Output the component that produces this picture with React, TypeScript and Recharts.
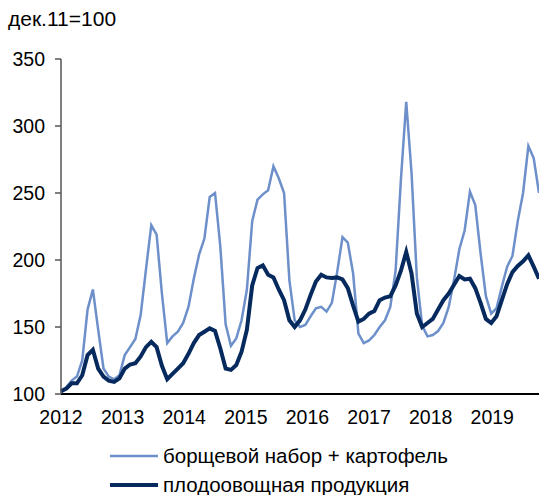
import { LineChart, Line, XAxis, YAxis, Legend } from 'recharts'

// дек.11=100, monthly from Jan 2012
const YEARS = ['2012', '2013', '2014', '2015', '2016', '2017', '2018', '2019']
const YEAR_POS = [0, 11.6, 23.2, 34.8, 46.4, 58, 69.6, 81.2]
const Y_TICKS = [100, 150, 200, 250, 300, 350]

const BORSCH = [
  101, 105, 110, 113, 125, 163, 178, 148, 119, 113, 111, 114,
  129, 135, 141, 159, 193, 226, 219, 175, 138, 143, 146.5, 153,
  165, 186, 204, 216, 247, 250, 210, 152, 136, 141.5, 155, 178,
  229, 245, 249, 252, 270, 261, 250, 185, 155, 150, 151.5, 158,
  164, 165, 161.5, 168, 191, 217, 213, 190, 145, 138, 140, 144,
  150, 155, 165, 192, 260, 318, 265, 187, 151, 143, 144, 147,
  153, 165, 185, 208, 222, 251, 241, 205, 173, 160, 164, 180,
  195, 203, 229, 250, 285, 276, 250,
]

const FRUITVEG = [
  102, 104, 108, 108, 114, 129, 133, 119, 113, 110, 109, 111.7,
  119, 122, 123, 128, 135, 139, 135, 121, 111, 115, 119, 123,
  130, 138, 144, 146.5, 149, 147, 134, 119, 118, 121.6, 131.6, 148,
  181, 194, 196, 189, 187, 178, 170, 155, 150, 155, 163, 174,
  184, 189, 187, 186.5, 187, 185.5, 179, 166, 154, 156, 160, 162,
  170, 172, 173, 181, 192, 206, 190, 160, 150, 153, 156, 163,
  170, 175, 181.5, 188, 185.5, 186, 179, 168, 156, 153, 158, 170,
  182, 191, 195.5, 199, 203.5, 195, 186,
]

const LIGHT = '#6d8fca'
const DARK = '#062a5e'
const FONT = '"Liberation Sans", Arial, sans-serif'

const data = BORSCH.map((v, i) => ({ m: i, borsch: v, fruitveg: FRUITVEG[i] }))

const WIDTHS: Record<string, number> = { borsch: 2.5, fruitveg: 4 }

function LegendBox(props: any) {
  const { payload } = props
  return (
    <div style={{ fontFamily: FONT, fontSize: 20.5, color: '#000' }}>
      {payload.map((entry: any) => (
        <div key={entry.value} style={{ display: 'flex', alignItems: 'center', height: 29, lineHeight: '29px' }}>
          <svg width={48} height={10}>
            <line x1={0} y1={5} x2={48} y2={5} stroke={entry.color} strokeWidth={WIDTHS[entry.dataKey]} />
          </svg>
          <span style={{ marginLeft: 5 }}>{entry.value}</span>
        </div>
      ))}
    </div>
  )
}

export default function App() {
  return (
    <div style={{ position: 'absolute', left: 0, top: 0, width: 539, height: 495, overflow: 'hidden', background: '#fff', fontFamily: FONT }}>
      <div style={{ position: 'absolute', left: 8, top: 7, fontSize: 21, lineHeight: '24px', color: '#000' }}>дек.11=100</div>
      <LineChart width={539} height={495} data={data} margin={{ top: 59, right: 0, left: 6, bottom: 71 }}>
        <XAxis
          dataKey="m"
          type="number"
          domain={[0, 90]}
          ticks={YEAR_POS}
          tickFormatter={(_v: number, i: number) => YEARS[i]}
          interval={0}
          height={30}
          tickLine={false}
          tickSize={0}
          tickMargin={16}
          axisLine={{ stroke: '#000', strokeWidth: 2 }}
          tick={{ fill: '#000', fontSize: 19.5, fontFamily: FONT }}
        />
        <YAxis
          domain={[100, 350]}
          ticks={Y_TICKS}
          interval={0}
          width={55}
          tickSize={6}
          tickMargin={10}
          axisLine={{ stroke: '#555', strokeWidth: 1.5 }}
          tickLine={{ stroke: '#555', strokeWidth: 1.5 }}
          tick={{ fill: '#000', fontSize: 19.5, fontFamily: FONT }}
        />
        <Legend
          layout="vertical"
          verticalAlign="middle"
          align="center"
          content={LegendBox}
          wrapperStyle={{ left: 110, top: 441, width: 429 }}
        />
        <Line
          type="linear"
          dataKey="borsch"
          name="борщевой набор + картофель"
          stroke={LIGHT}
          strokeWidth={2.5}
          dot={false}
          isAnimationActive={false}
        />
        <Line
          type="linear"
          dataKey="fruitveg"
          name="плодоовощная продукция"
          stroke={DARK}
          strokeWidth={4}
          dot={false}
          isAnimationActive={false}
        />
      </LineChart>
    </div>
  )
}
